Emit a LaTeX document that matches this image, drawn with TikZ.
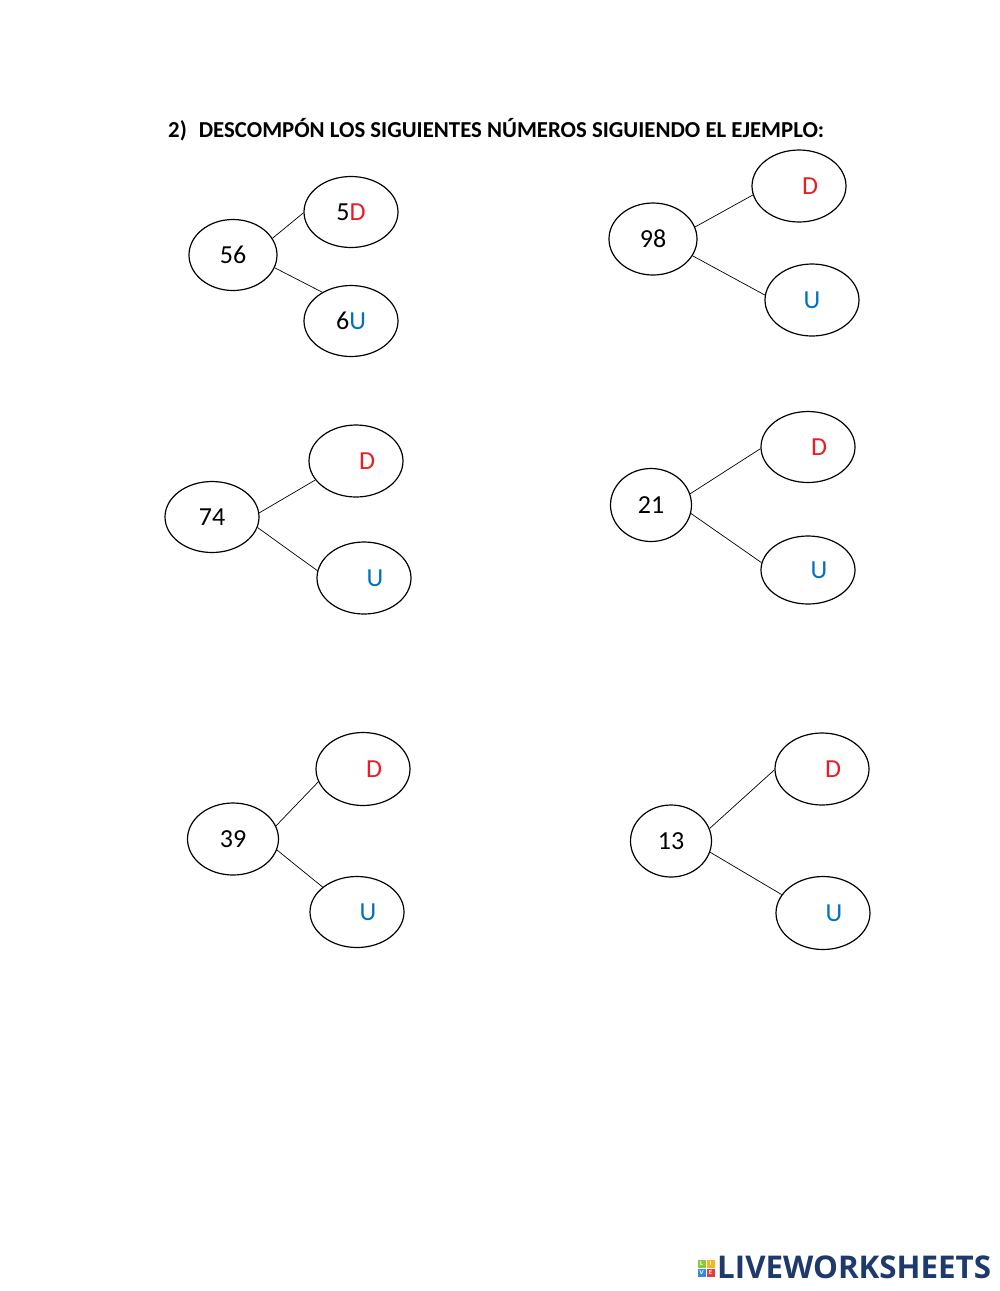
\documentclass[tikz,border=0pt]{standalone}
\usepackage{fontspec}
\setmainfont{Carlito}
\newfontfamily\logofont{Open Sans}
\usepackage{tikz}
\usetikzlibrary{shapes.geometric}

\definecolor{dred}{RGB}{235,28,36}
\definecolor{ublue}{RGB}{0,112,192}
\definecolor{logonavy}{RGB}{30,58,108}
\definecolor{lgreen}{RGB}{141,198,63}
\definecolor{lyellow}{RGB}{247,181,30}
\definecolor{lblue}{RGB}{52,140,215}
\definecolor{lred}{RGB}{228,62,60}

\tikzset{
  num/.style={ellipse, draw, line width=1.2pt, inner sep=0pt,
    minimum width=88pt, minimum height=71pt, font=\fontsize{26}{26}\selectfont},
  part/.style={num, minimum width=94pt, minimum height=71pt},
  link/.style={line width=0.7pt},
  logobox/.style={fill, minimum size=8pt, inner sep=0pt, text=white,
    font=\fontsize{6}{6}\bfseries\sffamily}
}
\newcommand{\pad}{\hspace{22pt}}

\begin{document}
\begin{tikzpicture}[x=1pt, y=-1pt]
  \fill[white] (0,0) rectangle (1000,1291);
  \useasboundingbox (0,0) rectangle (1000,1291);

  \node[anchor=base west, inner sep=0pt, font=\fontsize{22.8}{22.8}\bfseries] (title) at (168,137)
    {2)\hspace{12pt}DESCOMPÓN LOS SIGUIENTES NÚMEROS SIGUIENDO EL EJEMPLO:};

  % ejemplo
  \node[num] (n56) at (233,255) {56};
  \node[part] (d56) at (351,212) {5\textcolor{dred}{D}};
  \node[part] (u56) at (351,321) {6\textcolor{ublue}{U}};
  \path[link]
  (n56.23) edge (d56.181)
  (n56.343) edge (u56.135)
  ;

  \node[num, minimum height=72pt] (n98) at (653,239) {98};
  \node[part, minimum height=72pt] (d98) at (799,186) {\pad\textcolor{dred}{D}};
  \node[part, minimum height=72pt] (u98) at (812,300) {\textcolor{ublue}{U}};
  \path[link]
  (n98.16) edge (d98.191)
  (n98.337) edge (u98.174)
  ;

  \node[num, minimum width=94pt] (n74) at (212,517) {74};
  \node[part, minimum height=72pt] (d74) at (356,461) {\pad\textcolor{dred}{D}};
  \node[part, minimum height=72pt] (u74) at (364,578) {\pad\textcolor{ublue}{U}};
  \path[link]
  (n74.5) edge (d74.205)
  (n74.347) edge (u74.171)
  ;

  \node[num, minimum width=81pt, minimum height=73pt] (n21) at (651,505) {21};
  \node[part, minimum height=71pt] (d21) at (808,447) {\pad\textcolor{dred}{D}};
  \node[part, minimum height=68pt] (u21) at (808,570) {\pad\textcolor{ublue}{U}};
  \path[link]
  (n21.16) edge (d21.182)
  (n21.348) edge (u21.171)
  ;

  \node[num, minimum width=91pt, minimum height=72pt] (n39) at (233,839) {39};
  \node[part, minimum height=73pt] (d39) at (363,769) {\pad\textcolor{dred}{D}};
  \node[part, minimum height=71pt] (u39) at (357,912) {\pad\textcolor{ublue}{U}};
  \path[link]
  (n39.17) edge (d39.196)
  (n39.346) edge (u39.144)
  ;

  \node[num, minimum width=81pt, minimum height=72pt] (n13) at (671,841) {13};
  \node[part, minimum height=72pt] (d13) at (822,769) {\pad\textcolor{dred}{D}};
  \node[part, minimum height=73pt] (u13) at (823,913) {\pad\textcolor{ublue}{U}};
  \path[link]
  (n13.18) edge (d13.181)
  (n13.344) edge (u13.156)
  ;

  % logo
  \node[logobox, fill=lgreen] (lgL) at (701.5,1263.5) {L};
  \node[logobox, fill=lyellow] (lgI) at (710.5,1263.5) {I};
  \node[logobox, fill=lblue] (lgV) at (701.5,1272.5) {V};
  \node[logobox, fill=lred] (lgE) at (710.5,1272.5) {E};
  \node[anchor=base west, inner sep=0pt, text=logonavy,
    font=\logofont\fontsize{31.3}{31.3}\bfseries] (logo) at (717,1278) {LIVEWORKSHEETS};
\end{tikzpicture}
\end{document}
